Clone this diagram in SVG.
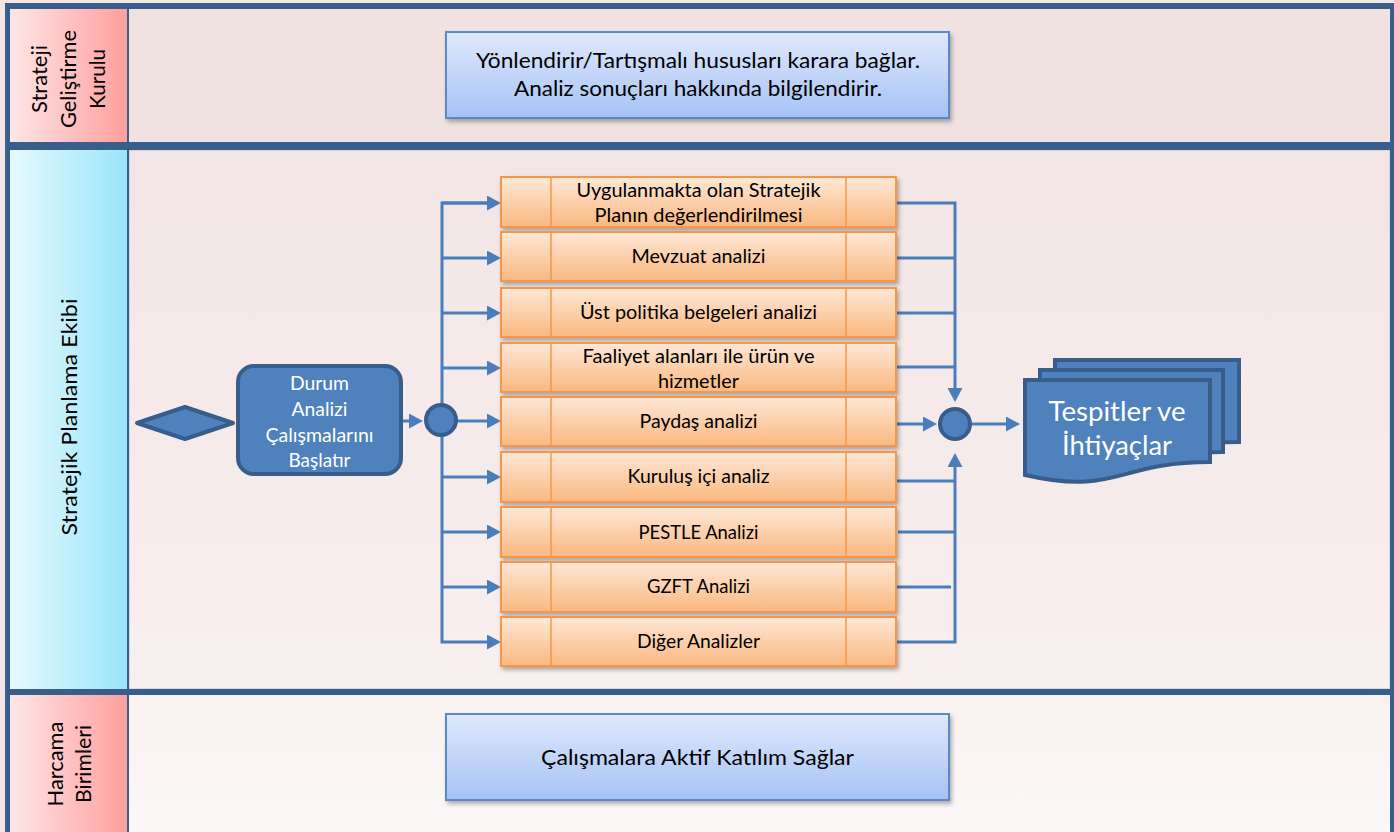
<svg xmlns="http://www.w3.org/2000/svg" width="1394" height="832" viewBox="0 0 1394 832">
<defs>
<linearGradient id="pinkHead" x1="0" y1="0" x2="1" y2="0"><stop offset="0" stop-color="#FFE6E6"/><stop offset="1" stop-color="#FF9F9E"/></linearGradient>
<linearGradient id="cyanHead" x1="0" y1="0" x2="1" y2="0"><stop offset="0" stop-color="#E6F9FE"/><stop offset="1" stop-color="#9BE5FA"/></linearGradient>
<linearGradient id="lane2bg" x1="0" y1="0" x2="0" y2="1"><stop offset="0" stop-color="#F3E5E5"/><stop offset="1" stop-color="#F8EFEF"/></linearGradient>
<linearGradient id="lane3bg" x1="0" y1="0" x2="0" y2="1"><stop offset="0" stop-color="#F9F2F1"/><stop offset="1" stop-color="#FBF8F7"/></linearGradient>
<linearGradient id="blueBox" x1="0" y1="0" x2="0" y2="1"><stop offset="0" stop-color="#E0E9FB"/><stop offset="1" stop-color="#A5C2F6"/></linearGradient>
<linearGradient id="orange" x1="0" y1="0" x2="0" y2="1"><stop offset="0" stop-color="#FEE8D7"/><stop offset="1" stop-color="#FAB87F"/></linearGradient>
<filter id="shadow" x="-5%" y="-20%" width="115%" height="150%"><feDropShadow dx="2" dy="3" stdDeviation="2" flood-color="#000" flood-opacity="0.3"/></filter>
<marker id="arrow" viewBox="0 0 14 15" refX="7" refY="7.5" markerWidth="14" markerHeight="15" markerUnits="userSpaceOnUse" orient="auto"><path d="M0,0 L14,7.5 L0,15 Z" fill="#4A7EBB"/></marker>
</defs>
<style>
.frame{fill:#3A5E8C}
.conn{fill:none;stroke:#4A7EBB;stroke-width:3}
.head{font-family:Lato,"Liberation Sans",sans-serif;font-size:21px;fill:#000}
.ob{fill:url(#orange);stroke:#F79646;stroke-width:2;filter:url(#shadow)}
.od{stroke:#F79646;stroke-width:1.5}
.ot{font-family:Lato,"Liberation Sans",sans-serif;font-size:20px;fill:#000;text-anchor:middle}
.bb{fill:url(#blueBox);stroke:#5A89C8;stroke-width:2;filter:url(#shadow)}
.bt{font-family:Lato,"Liberation Sans",sans-serif;font-size:22px;fill:#000;text-anchor:middle}
.dk{fill:#4F81BD;stroke:#385D8A;stroke-width:4}
.wt{font-family:Lato,"Liberation Sans",sans-serif;fill:#fff;text-anchor:middle}
</style>
<rect x="0" y="0" width="1394" height="832" fill="#F5E6E6"/>
<g id="lanes">
<rect x="129" y="9" width="1261" height="133" fill="#F1E2E2"/>
<rect x="129" y="150" width="1261" height="539" fill="url(#lane2bg)" stroke="#B5C4DA" stroke-width="1"/>
<rect x="129" y="695" width="1261" height="137" fill="url(#lane3bg)"/>
<rect x="10" y="9" width="117" height="133" fill="url(#pinkHead)"/>
<rect x="10" y="150" width="117" height="539" fill="url(#cyanHead)"/>
<rect x="10" y="695" width="117" height="137" fill="url(#pinkHead)"/>
<rect class="frame" x="5" y="3" width="1389" height="6"/>
<rect class="frame" x="5" y="142" width="1389" height="8"/>
<rect class="frame" x="5" y="689" width="1389" height="6"/>
<rect class="frame" x="5" y="3" width="5" height="829"/>
<rect class="frame" x="1390" y="3" width="4" height="829"/>
<rect class="frame" x="127" y="9" width="2" height="823"/>
<text class="head" transform="translate(0,79) rotate(-90)" text-anchor="middle"><tspan x="0" y="47" textLength="68" lengthAdjust="spacingAndGlyphs">Strateji</tspan><tspan x="0" y="76" textLength="98" lengthAdjust="spacingAndGlyphs">Geliştirme</tspan><tspan x="0" y="105" textLength="60" lengthAdjust="spacingAndGlyphs">Kurulu</tspan></text>
<text class="head" transform="translate(0,417) rotate(-90)" text-anchor="middle" x="0" y="77" textLength="237" lengthAdjust="spacingAndGlyphs">Stratejik Planlama Ekibi</text>
<text class="head" transform="translate(0,764) rotate(-90)" text-anchor="middle"><tspan x="0" y="63" textLength="85" lengthAdjust="spacingAndGlyphs">Harcama</tspan><tspan x="0" y="91" textLength="78" lengthAdjust="spacingAndGlyphs">Birimleri</tspan></text>
</g>
<g id="connectors">
<path class="conn" d="M402,421 H416" marker-end="url(#arrow)"/>
<path class="conn" d="M494,203 H442 V642 H494" marker-end="url(#arrow)"/>
<path class="conn" d="M442,203 H494" marker-end="url(#arrow)"/>
<path class="conn" d="M442,258 H494" marker-end="url(#arrow)"/>
<path class="conn" d="M442,313 H494" marker-end="url(#arrow)"/>
<path class="conn" d="M442,368 H494" marker-end="url(#arrow)"/>
<path class="conn" d="M456,421 H494" marker-end="url(#arrow)"/>
<path class="conn" d="M442,477 H494" marker-end="url(#arrow)"/>
<path class="conn" d="M442,532 H494" marker-end="url(#arrow)"/>
<path class="conn" d="M442,587 H494" marker-end="url(#arrow)"/>
<path class="conn" d="M896,203 H955 V395" marker-end="url(#arrow)"/>
<path class="conn" d="M896,258 H955"/>
<path class="conn" d="M896,313 H955"/>
<path class="conn" d="M896,367 H955"/>
<path class="conn" d="M896,642 H955 V460" marker-end="url(#arrow)"/>
<path class="conn" d="M896,481 H955"/>
<path class="conn" d="M898,532 H955"/>
<path class="conn" d="M892,587 H951"/>
<path class="conn" d="M896,424 H930" marker-end="url(#arrow)"/>
<path class="conn" d="M972,424 H1013" marker-end="url(#arrow)"/>
</g>
<g id="node-top">
<rect class="bb" x="446" y="32" width="503" height="86"/>
<text class="bt"><tspan x="698" y="68" textLength="444" lengthAdjust="spacingAndGlyphs">Yönlendirir/Tartışmalı hususları karara bağlar.</tspan><tspan x="698" y="96" textLength="368" lengthAdjust="spacingAndGlyphs">Analiz sonuçları hakkında bilgilendirir.</tspan></text>
</g>
<g id="node-start">
<path class="dk" d="M137,423 L185,407 L233,423 L185,439 Z" stroke-linejoin="round" stroke-width="5"/>
</g>
<g id="node-durum">
<rect class="dk" x="238" y="366" width="163" height="108" rx="16"/>
<text class="wt" font-size="20"><tspan x="319.5" y="390" textLength="59" lengthAdjust="spacingAndGlyphs">Durum</tspan><tspan x="319.5" y="416" textLength="56" lengthAdjust="spacingAndGlyphs">Analizi</tspan><tspan x="319.5" y="442" textLength="108" lengthAdjust="spacingAndGlyphs">Çalışmalarını</tspan><tspan x="319.5" y="467" textLength="62" lengthAdjust="spacingAndGlyphs">Başlatır</tspan></text>
</g>
<g id="node-split">
<circle class="dk" cx="441" cy="420" r="15"/>
</g>
<g id="node-a1"><rect class="ob" x="501" y="177" width="395" height="50"/><path class="od" d="M551,177 V227 M846,177 V227"/><text class="ot"><tspan x="698.5" y="197" textLength="244" lengthAdjust="spacingAndGlyphs">Uygulanmakta olan Stratejik</tspan><tspan x="698.5" y="222" textLength="208" lengthAdjust="spacingAndGlyphs">Planın değerlendirilmesi</tspan></text></g>
<g id="node-a2"><rect class="ob" x="501" y="232" width="395" height="49"/><path class="od" d="M551,232 V281 M846,232 V281"/><text class="ot" x="698.5" y="263" textLength="134" lengthAdjust="spacingAndGlyphs">Mevzuat analizi</text></g>
<g id="node-a3"><rect class="ob" x="501" y="288" width="395" height="49"/><path class="od" d="M551,288 V337 M846,288 V337"/><text class="ot" x="698.5" y="319" textLength="237" lengthAdjust="spacingAndGlyphs">Üst politika belgeleri analizi</text></g>
<g id="node-a4"><rect class="ob" x="501" y="343" width="395" height="49"/><path class="od" d="M551,343 V392 M846,343 V392"/><text class="ot"><tspan x="698.5" y="363" textLength="232" lengthAdjust="spacingAndGlyphs">Faaliyet alanları ile ürün ve</tspan><tspan x="698.5" y="388" textLength="81" lengthAdjust="spacingAndGlyphs">hizmetler</tspan></text></g>
<g id="node-a5"><rect class="ob" x="501" y="397" width="395" height="49"/><path class="od" d="M551,397 V446 M846,397 V446"/><text class="ot" x="698.5" y="428" textLength="118" lengthAdjust="spacingAndGlyphs">Paydaş analizi</text></g>
<g id="node-a6"><rect class="ob" x="501" y="452" width="395" height="50"/><path class="od" d="M551,452 V502 M846,452 V502"/><text class="ot" x="698.5" y="483" textLength="142" lengthAdjust="spacingAndGlyphs">Kuruluş içi analiz</text></g>
<g id="node-a7"><rect class="ob" x="501" y="507" width="395" height="50"/><path class="od" d="M551,507 V557 M846,507 V557"/><text class="ot" x="698.5" y="539" textLength="120" lengthAdjust="spacingAndGlyphs">PESTLE Analizi</text></g>
<g id="node-a8"><rect class="ob" x="501" y="562" width="395" height="50"/><path class="od" d="M551,562 V612 M846,562 V612"/><text class="ot" x="698.5" y="593" textLength="103" lengthAdjust="spacingAndGlyphs">GZFT Analizi</text></g>
<g id="node-a9"><rect class="ob" x="501" y="617" width="395" height="49"/><path class="od" d="M551,617 V666 M846,617 V666"/><text class="ot" x="698.5" y="648" textLength="123" lengthAdjust="spacingAndGlyphs">Diğer Analizler</text></g>
<g id="node-merge">
<circle class="dk" cx="955" cy="424" r="15"/>
</g>
<g id="node-docs">
<path class="dk" d="M1055,360 H1239 V442 C1147,442 1147,476 1055,456 Z"/>
<path class="dk" d="M1040,370 H1223 V452 C1131,452 1131,486 1040,466 Z"/>
<path class="dk" d="M1025,380 H1210 V462 C1117,462 1117,496 1025,475 Z"/>
<text class="wt" font-size="27"><tspan x="1117" y="421" textLength="137" lengthAdjust="spacingAndGlyphs">Tespitler ve</tspan><tspan x="1117" y="455" textLength="110" lengthAdjust="spacingAndGlyphs">İhtiyaçlar</tspan></text>
</g>
<g id="node-bottom">
<rect class="bb" x="446" y="714" width="503" height="86"/>
<text class="bt" x="697.5" y="765" textLength="313" lengthAdjust="spacingAndGlyphs">Çalışmalara Aktif Katılım Sağlar</text>
</g>
</svg>
